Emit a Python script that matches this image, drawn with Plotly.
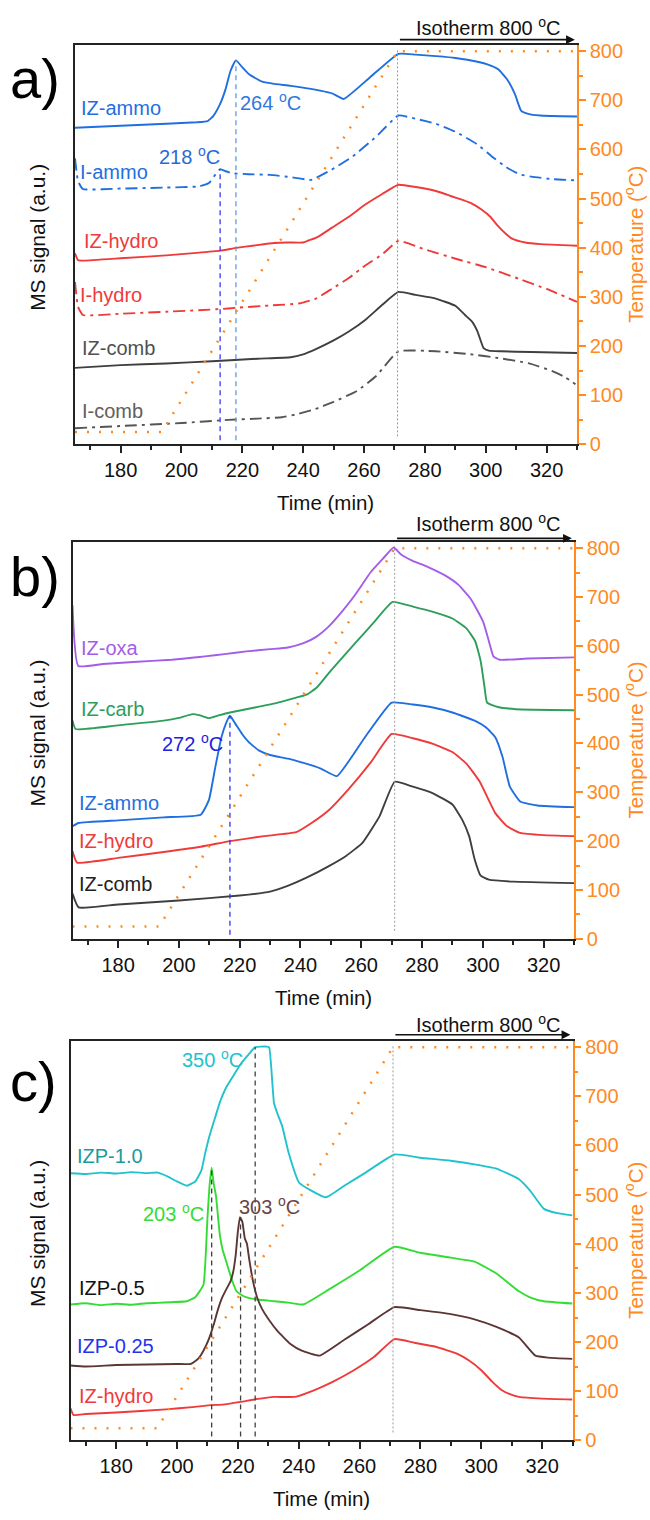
import plotly.graph_objects as go

# ---------------- data ----------------
# temperature programme (all panels)
t_temp = [165, 193.5, 271, 330]
T_temp = [25, 25, 800, 800]
t_iso = 271

# panel a (MS signal, a.u.)
a_izammo_t = [165, 180, 195, 205, 208.6, 210.5, 212.7, 214.5, 216.1, 217.9, 220, 222.2, 226.3, 230, 235.9, 242, 249.5, 253.3, 262, 271.3, 277, 283.6, 290, 297.3, 301, 304.1, 307, 309.6, 311.6, 314, 317.8, 330]
a_izammo_s = [320, 322, 324, 325.5, 326.7, 332, 344, 359, 377.3, 388, 381, 374, 366.7, 364.5, 362.3, 359.5, 354.7, 349, 371, 394.7, 393.8, 392.3, 390.5, 386.7, 383.5, 379, 369, 354, 337.3, 334, 332.3, 331.3]
a_iammo_t = [165, 166, 167.6, 180, 195, 205.9, 209, 211, 212.7, 214.5, 216.7, 222, 229, 236, 242.6, 249, 256.3, 264, 271.3, 277, 283.6, 290, 297.3, 302, 306.8, 311, 315, 322, 330]
a_iammo_s = [289, 266, 258, 258.5, 259.5, 260.7, 264, 272, 278, 276, 274, 273, 272.3, 270, 267.3, 277, 291, 311, 332.3, 329, 324, 316, 303, 291, 280, 273, 270.5, 268, 266.7]
a_izhydro_t = [165, 166, 168, 180, 195, 205, 212.7, 218, 224, 230.4, 235, 240, 245, 249.5, 255, 260.4, 266, 271.3, 277, 283.6, 290.4, 295, 298.6, 301.5, 304, 306.5, 309, 313, 318, 330]
a_izhydro_s = [193, 186, 185.7, 188, 191, 193.5, 195.7, 198.5, 201, 203.5, 204, 204, 210, 219, 230, 242.3, 253, 262.3, 260, 256, 249, 244, 237.3, 230, 220.7, 213, 207.3, 204, 202.3, 200.7]
a_ihydro_t = [165, 166, 167.6, 180, 195, 212.7, 218, 230, 238.6, 244, 249.5, 255, 260.4, 266, 271.3, 280, 290.4, 300, 310.9, 320, 330]
a_ihydro_s = [164, 139, 130.7, 132, 134, 136.7, 138, 140.5, 142.3, 147, 157.3, 168, 180.7, 192, 205.7, 197, 187.3, 179, 167.3, 157, 144]
a_izcomb_t = [165, 180, 195, 210, 225, 235.9, 240, 244, 250, 255, 260.4, 266, 271.3, 277, 283.6, 290, 293.2, 295.5, 297.3, 299.3, 301, 305, 315, 330]
a_izcomb_s = [77.3, 80, 81.7, 84, 86.5, 88, 91, 96, 105, 114, 125.7, 141, 154, 151, 147.3, 140, 130.7, 124, 114, 97.3, 94.7, 94, 93.3, 92.3]
a_icomb_t = [165, 180, 200, 215.3, 225, 233, 238, 244, 250, 257.7, 264, 271.3, 283.6, 295, 304, 314, 321.9, 326, 329.5]
a_icomb_s = [16.3, 18.5, 21.5, 24.7, 26, 27.3, 30.5, 35.7, 43, 54, 69, 94, 94, 91, 87.3, 82, 74, 68, 60.7]
a_peak_t = [212.7, 217.9]
a_peak_s = [278, 388]

# panel b
b_izoxa_t = [165, 166.9, 175, 185, 197.6, 205, 208.6, 215, 222.2, 230, 235.9, 241, 245.3, 249, 253.6, 258, 263.1, 267, 270.7, 273, 276.9, 282, 287.7, 292, 296, 300.1, 302, 303.5, 305.5, 315, 330]
b_izoxa_s = [337, 275.7, 277.7, 279.7, 282, 284.2, 285.4, 287.7, 290.4, 292.7, 294.4, 298.7, 305.4, 314.7, 330.4, 347.7, 370.4, 383.7, 395.4, 388.7, 382, 375.7, 367, 357.7, 343.7, 320.4, 300.7, 285.4, 282, 283.2, 284.4]
b_izcarb_t = [165, 166, 180, 195, 200, 204.5, 207, 209.9, 213, 216.8, 225, 232, 238.6, 242, 245.3, 250, 258, 264, 270.3, 277, 283.6, 290, 294.6, 297.5, 299.3, 300.5, 301.4, 305, 310.9, 330]
b_izcarb_s = [220.7, 212, 215.7, 220.4, 223.2, 227, 225.7, 223, 225.7, 228.7, 233.7, 238.2, 243.7, 246.7, 253.7, 271.1, 298.7, 319.2, 340.4, 335.7, 330.4, 323.7, 313.7, 300.7, 280.4, 255.7, 238.7, 234.2, 232, 231]
b_izammo_t = [165, 167, 180, 195, 207.2, 209.9, 212, 214, 215.5, 216.8, 218.5, 220.8, 223, 226.3, 230, 235.9, 241, 246.7, 252, 261, 270, 277, 283.6, 290, 297.3, 301, 304.1, 306.5, 308.9, 312.3, 318, 330]
b_izammo_s = [113.7, 117, 119.7, 122.7, 125.4, 140.4, 173.7, 203.7, 217.7, 225.4, 217.7, 207, 198.7, 190.4, 185.7, 182, 177.7, 172, 164.4, 202.7, 238.7, 236.7, 233.7, 228.7, 220.4, 213.7, 203.7, 183.7, 153.7, 138.7, 134.7, 133]
b_izhydro_t = [165, 166.5, 180, 195, 207.2, 216.8, 228, 238.6, 244, 249.5, 256, 263, 270, 277, 283.6, 290, 294.6, 299, 304.1, 308, 312.3, 320, 330]
b_izhydro_s = [88.7, 77, 81.7, 87.7, 93, 98.7, 103.7, 107.7, 117.7, 130.4, 151.7, 177.7, 207, 202.7, 197, 188.7, 177, 158.7, 127, 113.7, 107, 104.7, 103.7]
b_izcomb_t = [165, 167, 180, 200, 220, 230, 236, 242, 249.5, 255, 260.4, 266, 271, 277, 283.6, 290, 293.2, 295.5, 297.3, 299.3, 302, 310, 330]
b_izcomb_s = [45.7, 31.7, 34.7, 38.7, 43.7, 47.7, 53.7, 61.7, 73.7, 83.7, 97, 123.7, 158.7, 153.7, 147, 135.7, 120.4, 103.7, 80.4, 63.7, 59.7, 57.7, 56.2]
b_peak_t = [216.8]
b_peak_s = [225.4]

# panel c
c_izp10_t = [165, 170, 175, 180, 185, 190, 193.7, 197, 200, 203.2, 206, 208, 209.3, 210.5, 212.3, 214.2, 216, 218.3, 221, 223.7, 225.7, 227.5, 229.5, 230.3, 231.9, 233.2, 234.6, 236.7, 240.1, 244, 248.9, 255, 262, 271.5, 280, 290, 297.8, 305, 312.4, 316, 320.6, 325, 330]
c_izp10_s = [270, 269.2, 270.7, 269.7, 271.2, 270.2, 270.7, 266.7, 261.7, 257.4, 261.7, 272.7, 290.7, 305.7, 324, 342.7, 355.7, 367.4, 380.7, 390.7, 397.4, 398, 398, 397.2, 340.7, 328.7, 317.4, 290.7, 260.7, 252.7, 245.7, 257.4, 270.7, 289, 285.7, 282.7, 279, 274.7, 264, 252.7, 234, 229.7, 227.4]
c_izp05_t = [165, 170, 175, 180, 185, 190, 193.7, 198, 203.2, 206, 208.7, 209.5, 210, 210.7, 211.4, 212, 212.8, 213.5, 214.1, 215, 216.2, 218, 219.6, 222, 226.4, 232, 237.3, 241.5, 250, 260, 271.5, 280, 290, 297.8, 305, 312.4, 316, 320.6, 330]
c_izp05_s = [137.4, 138.7, 136.7, 138.2, 137.2, 138.7, 139, 139.7, 140.7, 144.7, 157.4, 190.7, 224, 257.4, 275.7, 260.7, 247.4, 225.7, 207.4, 192.7, 180.7, 162.7, 150.7, 145.7, 142.4, 140.7, 139, 137.4, 152.7, 171.7, 195.7, 189.7, 184.7, 180.7, 168.7, 150.7, 144.7, 140.7, 138.4]
c_izp025_t = [165, 170, 180, 190, 200, 204.6, 207, 208.7, 210.5, 212.1, 213.5, 214.8, 216.2, 217.6, 218.5, 219.3, 220, 220.7, 221.5, 222.3, 223, 223.7, 225, 226.4, 228, 230.5, 233, 237.3, 241, 246.9, 255, 263, 271.5, 280, 290, 297.8, 305, 312.4, 317.8, 322, 330]
c_izp025_s = [75.7, 74.7, 76.2, 76.7, 77.2, 77.4, 82.7, 90.7, 102.7, 117.4, 132.7, 144, 152.7, 160.7, 170.7, 187.4, 210.7, 225.7, 220.7, 204, 198.7, 184, 160.7, 144, 132.7, 120.7, 110.7, 97.4, 90.7, 85.7, 101.7, 117.7, 134.7, 131.7, 127.7, 122.4, 114.7, 104, 85.7, 83.7, 82.4]
c_izhydro_t = [165, 166, 170, 180, 196.4, 205, 211.4, 215, 220.9, 226, 231.9, 238.7, 245, 251, 258, 264.6, 271.5, 278, 285, 292, 296, 300.1, 303.5, 306.8, 309, 312.4, 320, 330]
c_izhydro_s = [32.4, 25.7, 26.7, 28.2, 31.4, 33.7, 35.7, 36.2, 39, 41.7, 44, 44, 50.7, 59, 70.7, 84, 102.4, 98.7, 94.7, 87.7, 80.7, 70.7, 59.7, 50.7, 47.2, 44, 42.2, 41.4]
c_peak_t = [211.4, 220.9, 225.7]
c_peak_s = [275.7, 225.7, 397.4]

x_ticks = [180, 200, 220, 240, 260, 280, 300, 320]
T_ticks = [0, 100, 200, 300, 400, 500, 600, 700, 800]

# ---------------- styling ----------------
W, H = 650, 1520
FONT = "Liberation Sans, Arial, sans-serif"
FS = 20
ORANGE = "#FF8A1F"
BLUE = "#1F6FE0"
RED = "#F03A3A"
DGRAY = "#3F3F3F"
PURPLE = "#A45DE8"
GREEN = "#2E9E5B"
CYAN = "#22C2CC"
LGREEN = "#33DD33"
BROWN = "#5C3535"
SOLID = "solid"
DASHDOT = "12px,5px,3px,5px"

# pixel geometry of the three panels: (left, right, top, bottom)
panels = [(75, 577, 40.7, 444), (72.5, 574, 543, 943.7), (70.5, 572.5, 1047.3, 1450.7)]

fig = go.Figure()

def px(v):
    return v / W

def py(v):
    return 1 - v / H

series = [
    (0, a_izammo_t, a_izammo_s, BLUE, SOLID),
    (0, a_iammo_t, a_iammo_s, BLUE, DASHDOT),
    (0, a_izhydro_t, a_izhydro_s, RED, SOLID),
    (0, a_ihydro_t, a_ihydro_s, RED, DASHDOT),
    (0, a_izcomb_t, a_izcomb_s, DGRAY, SOLID),
    (0, a_icomb_t, a_icomb_s, "#555555", DASHDOT),
    (1, b_izoxa_t, b_izoxa_s, PURPLE, SOLID),
    (1, b_izcarb_t, b_izcarb_s, GREEN, SOLID),
    (1, b_izammo_t, b_izammo_s, BLUE, SOLID),
    (1, b_izhydro_t, b_izhydro_s, RED, SOLID),
    (1, b_izcomb_t, b_izcomb_s, DGRAY, SOLID),
    (2, c_izp10_t, c_izp10_s, CYAN, SOLID),
    (2, c_izp05_t, c_izp05_s, LGREEN, SOLID),
    (2, c_izp025_t, c_izp025_s, BROWN, SOLID),
    (2, c_izhydro_t, c_izhydro_s, RED, SOLID),
]

def ax_names(i):
    xa = "x" if i == 0 else f"x{i+1}"
    yl = "y" if i == 0 else f"y{2*i+1}"
    yr = f"y{2*i+2}"
    return xa, yl, yr

# temperature (right axis) and iso lines
for i in range(3):
    xa, yl, yr = ax_names(i)
    fig.add_trace(go.Scatter(x=t_temp, y=T_temp, xaxis=xa, yaxis=yr, mode="lines",
                             line=dict(color=ORANGE, width=2.5, dash="2px,10px"),
                             showlegend=False, hoverinfo="skip"))
    fig.add_shape(type="line", xref=xa, yref=f"{yl} domain", x0=t_iso, x1=t_iso, y0=0.02, y1=0.99,
                  line=dict(color="#9a9a9a", width=1, dash="2px,2px"))

for (i, t, s, col, dash) in series:
    xa, yl, yr = ax_names(i)
    fig.add_trace(go.Scatter(x=t, y=s, xaxis=xa, yaxis=yl, mode="lines",
                             line=dict(color=col, width=1.9, dash=dash, shape="spline", smoothing=0.4),
                             showlegend=False, hoverinfo="skip"))

peak_sets = [(0, a_peak_t, a_peak_s, ["#3A3AF0", "#5B9BE6"]),
             (1, b_peak_t, b_peak_s, ["#3030F0"]),
             (2, c_peak_t, c_peak_s, ["#404040", "#404040", "#404040"])]
for (i, ts, ss, cols) in peak_sets:
    xa, yl, yr = ax_names(i)
    for t, s, c in zip(ts, ss, cols):
        fig.add_trace(go.Scatter(x=[t, t], y=[4, s], xaxis=xa, yaxis=yl, mode="lines",
                                 line=dict(color=c, width=1.3, dash="5px,4px"),
                                 showlegend=False, hoverinfo="skip"))

layout = dict(width=W, height=H, margin=dict(l=0, r=0, t=0, b=0),
              paper_bgcolor="white", plot_bgcolor="white",
              font=dict(family=FONT, size=FS, color="#111"), showlegend=False)

for i, (l, r, t, b) in enumerate(panels):
    xa, yl, yr = ax_names(i)
    xk = "xaxis" if i == 0 else f"xaxis{i+1}"
    ylk = "yaxis" if i == 0 else f"yaxis{2*i+1}"
    yrk = f"yaxis{2*i+2}"
    hpx = b - t
    layout[xk] = dict(domain=[px(l), px(r)], anchor=yl, range=[165, 330],
                      showline=True, linecolor="#222", linewidth=1.5, mirror=True,
                      ticks="outside", ticklen=7, tickwidth=1.5, tickcolor="#222",
                      tickmode="array", tickvals=x_ticks,
                      minor=dict(tickmode="linear", tick0=0, dtick=10, ticks="outside", ticklen=4, tickwidth=1.5, tickcolor="#222"),
                      tickfont=dict(size=FS, color="#111"), showgrid=False, zeroline=False)
    layout[ylk] = dict(domain=[py(b), py(t)], anchor=xa, range=[0, hpx],
                       showline=True, linecolor="#222", linewidth=1.5,
                       showticklabels=False, ticks="", showgrid=False, zeroline=False)
    layout[yrk] = dict(domain=[py(b), py(t)], anchor=xa, overlaying=yl, side="right",
                       range=[0, 812], showline=True, linecolor=ORANGE, linewidth=1.5,
                       ticks="outside", ticklen=7, tickwidth=1.5, tickcolor=ORANGE,
                       tickmode="array", tickvals=T_ticks,
                       minor=dict(tickmode="linear", tick0=0, dtick=50, ticks="outside", ticklen=4, tickwidth=1.5, tickcolor=ORANGE),
                       tickfont=dict(size=FS, color=ORANGE), showgrid=False, zeroline=False)

fig.update_layout(**layout)

ann = []
def txt(x, y, s, col, size=FS, xanchor="left", angle=0):
    ann.append(dict(x=px(x), y=py(y), xref="paper", yref="paper", text=s, showarrow=False,
                    xanchor=xanchor, yanchor="middle", textangle=angle,
                    font=dict(family=FONT, size=size, color=col)))

deg = "<sup>o</sup>C"
# panel letters
txt(8, 74, "a)", "#000", 56)
txt(8, 578, "b)", "#000", 56)
txt(8, 1088, "c)", "#000", 56)

# isotherm labels and arrows
iso = [(21.7, 35), (523, 539), (1029, 1040.7)]
for i, (ty, ay) in enumerate(iso):
    xa, yl, yr = ax_names(i)
    txt(488, ty, "Isotherm 800 " + deg, "#111", FS, xanchor="center")
    ann.append(dict(x=329.3, y=py(ay), ax=271.3, ay=0, xref=xa, yref="paper", axref=xa, ayref="pixel",
                    showarrow=True, arrowhead=2, arrowsize=1.1, arrowwidth=1.6, arrowcolor="#111", text=""))

# axis titles
for i, (l, r, t, b) in enumerate(panels):
    txt((l + r) / 2, b + 59, "Time (min)", "#111", 20.5, xanchor="center")
    txt(38, (t + b) / 2 - 7, "MS signal (a.u.)", "#111", 21, xanchor="center", angle=-90)
    txt(634, (t + b) / 2, "Temperature (" + deg + ")", ORANGE, 20.5, xanchor="center", angle=-90)

# series labels
txt(79, 104, "IZ-ammo", BLUE)
txt(238, 97.7, "264 " + deg, "#2F78E0")
txt(157, 152, "218 " + deg, "#2A6AD8")
txt(78, 169, "I-ammo", BLUE)
txt(82, 239, "IZ-hydro", RED)
txt(78, 293, "I-hydro", RED)
txt(80, 347, "IZ-comb", "#505050")
txt(80, 410, "I-comb", "#606060")

txt(79, 650, "IZ-oxa", PURPLE)
txt(79, 711.7, "IZ-carb", GREEN)
txt(160, 745, "272 " + deg, "#2222DD")
txt(77, 806.7, "IZ-ammo", BLUE)
txt(77, 845, "IZ-hydro", RED)
txt(77, 888, "IZ-comb", "#222")

txt(180, 1065, "350 " + deg, CYAN)
txt(75, 1163, "IZP-1.0", "#1A9A9A")
txt(141, 1220, "203 " + deg, LGREEN)
txt(236.5, 1213, "303 " + deg, "#6A4444")
txt(77, 1297, "IZP-0.5", "#111")
txt(75, 1355, "IZP-0.25", "#2233EE")
txt(77, 1406, "IZ-hydro", RED)

fig.update_layout(annotations=ann)
fig.write_html("out.html")
